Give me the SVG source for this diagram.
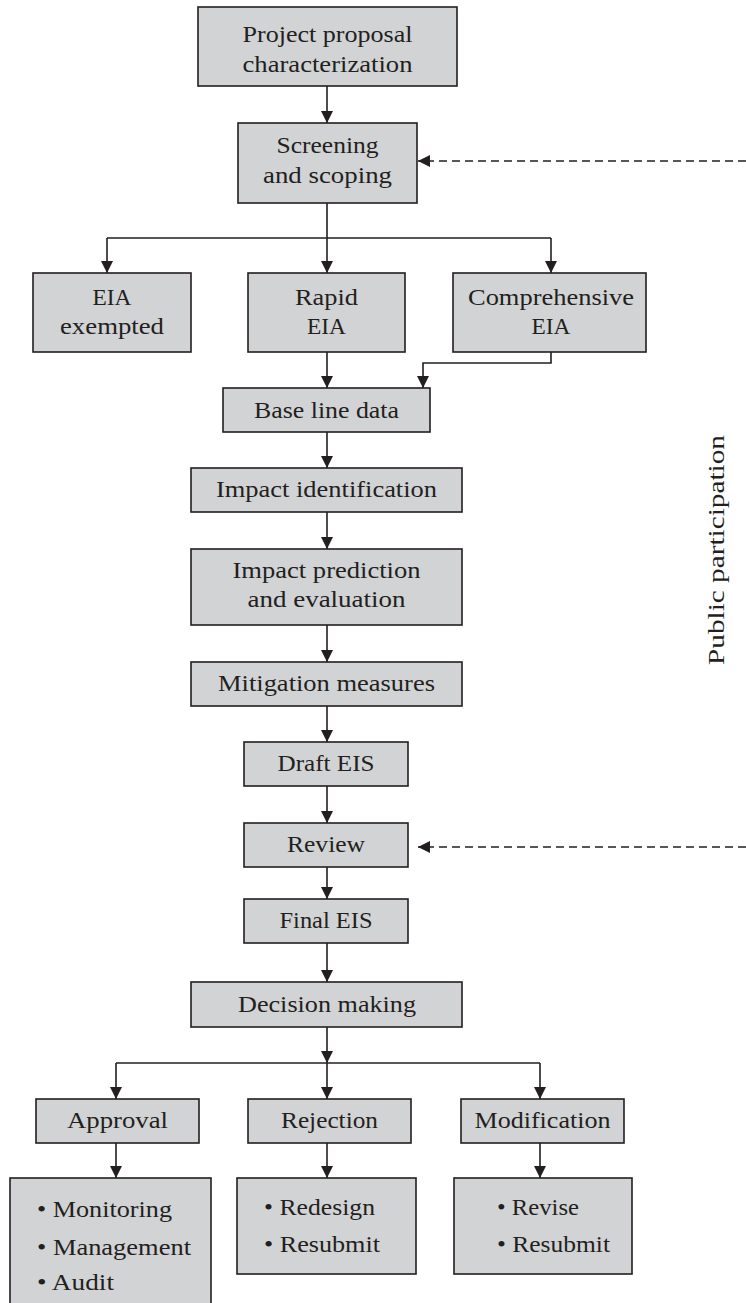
<svg xmlns="http://www.w3.org/2000/svg" width="746" height="1303" viewBox="0 0 746 1303">
  <style>
    .box { fill: #d2d3d5; stroke: #231f20; stroke-width: 1.6; }
    .lbl { font-family: "Liberation Serif", "Times New Roman", serif; font-size: 23px; fill: #231f20; text-anchor: middle; }
    .lft { text-anchor: start; }
    .wire { fill: none; stroke: #231f20; stroke-width: 1.6; }
    .arr { marker-end: url(#head); }
    .dash { stroke-dasharray: 8 5; }
  </style>
  <defs>
    <marker id="head" markerUnits="userSpaceOnUse" markerWidth="12" markerHeight="12" refX="12" refY="6" orient="auto">
      <path d="M0,0 L12,6 L0,12 Z" fill="#231f20"/>
    </marker>
  </defs>
  <rect width="746" height="1303" fill="#ffffff"/>

  <!-- connectors -->
  <g id="connectors">
    <path class="wire arr" d="M327,86 V123"/>
    <path class="wire" d="M327,203 V238 M107,238 H551"/>
    <path class="wire arr" d="M107,238 V273"/>
    <path class="wire arr" d="M327,238 V273"/>
    <path class="wire arr" d="M551,238 V273"/>
    <path class="wire arr" d="M327,352 V388"/>
    <path class="wire arr" d="M551,352 V363 H423 V388"/>
    <path class="wire arr" d="M327,432 V468"/>
    <path class="wire arr" d="M327,512 V549"/>
    <path class="wire arr" d="M327,625 V662"/>
    <path class="wire arr" d="M327,706 V742"/>
    <path class="wire arr" d="M327,786 V823"/>
    <path class="wire arr" d="M327,867 V899"/>
    <path class="wire arr" d="M327,943 V982"/>
    <path class="wire arr" d="M327,1027 V1063"/>
    <path class="wire" d="M116,1063 H540"/>
    <path class="wire arr" d="M116,1063 V1099"/>
    <path class="wire arr" d="M327,1063 V1099"/>
    <path class="wire arr" d="M540,1063 V1099"/>
    <path class="wire arr" d="M116,1143 V1178"/>
    <path class="wire arr" d="M327,1143 V1178"/>
    <path class="wire arr" d="M540,1143 V1178"/>
    <path class="wire arr dash" d="M746,161 H418"/>
    <path class="wire arr dash" d="M746,847 H418"/>
  </g>

  <g id="proposal">
    <rect class="box" x="198" y="7" width="259" height="79"/>
    <text class="lbl" x="327.5" y="42" textLength="170" lengthAdjust="spacingAndGlyphs">Project proposal</text>
    <text class="lbl" x="327.5" y="72" textLength="170" lengthAdjust="spacingAndGlyphs">characterization</text>
  </g>
  <g id="screening">
    <rect class="box" x="238" y="123" width="179" height="80"/>
    <text class="lbl" x="327.5" y="153" textLength="102" lengthAdjust="spacingAndGlyphs">Screening</text>
    <text class="lbl" x="327.5" y="183" textLength="129" lengthAdjust="spacingAndGlyphs">and scoping</text>
  </g>
  <g id="exempted">
    <rect class="box" x="33" y="273" width="158" height="79"/>
    <text class="lbl" x="112" y="305" textLength="39" lengthAdjust="spacingAndGlyphs">EIA</text>
    <text class="lbl" x="112" y="334" textLength="104" lengthAdjust="spacingAndGlyphs">exempted</text>
  </g>
  <g id="rapid">
    <rect class="box" x="248" y="273" width="157" height="79"/>
    <text class="lbl" x="326.5" y="305" textLength="63" lengthAdjust="spacingAndGlyphs">Rapid</text>
    <text class="lbl" x="326.5" y="334" textLength="39" lengthAdjust="spacingAndGlyphs">EIA</text>
  </g>
  <g id="comprehensive">
    <rect class="box" x="453" y="273" width="193" height="79"/>
    <text class="lbl" x="551" y="305" textLength="166" lengthAdjust="spacingAndGlyphs">Comprehensive</text>
    <text class="lbl" x="551" y="334" textLength="39" lengthAdjust="spacingAndGlyphs">EIA</text>
  </g>
  <g id="baseline">
    <rect class="box" x="223" y="388" width="207" height="44"/>
    <text class="lbl" x="326.5" y="418" textLength="145" lengthAdjust="spacingAndGlyphs">Base line data</text>
  </g>
  <g id="identification">
    <rect class="box" x="191" y="468" width="271" height="44"/>
    <text class="lbl" x="326.5" y="497" textLength="221" lengthAdjust="spacingAndGlyphs">Impact identification</text>
  </g>
  <g id="prediction">
    <rect class="box" x="191" y="549" width="271" height="76"/>
    <text class="lbl" x="326.5" y="578" textLength="188" lengthAdjust="spacingAndGlyphs">Impact prediction</text>
    <text class="lbl" x="326.5" y="607" textLength="158" lengthAdjust="spacingAndGlyphs">and evaluation</text>
  </g>
  <g id="mitigation">
    <rect class="box" x="191" y="662" width="271" height="44"/>
    <text class="lbl" x="326.5" y="691" textLength="217" lengthAdjust="spacingAndGlyphs">Mitigation measures</text>
  </g>
  <g id="draft">
    <rect class="box" x="244" y="742" width="164" height="44"/>
    <text class="lbl" x="326" y="771" textLength="97" lengthAdjust="spacingAndGlyphs">Draft EIS</text>
  </g>
  <g id="review">
    <rect class="box" x="244" y="823" width="164" height="44"/>
    <text class="lbl" x="326" y="852" textLength="78" lengthAdjust="spacingAndGlyphs">Review</text>
  </g>
  <g id="final">
    <rect class="box" x="244" y="899" width="164" height="44"/>
    <text class="lbl" x="326" y="928" textLength="93" lengthAdjust="spacingAndGlyphs">Final EIS</text>
  </g>
  <g id="decision">
    <rect class="box" x="191" y="982" width="271" height="45"/>
    <text class="lbl" x="327" y="1012" textLength="178" lengthAdjust="spacingAndGlyphs">Decision making</text>
  </g>
  <g id="approval">
    <rect class="box" x="36" y="1099" width="163" height="44"/>
    <text class="lbl" x="117.5" y="1128" textLength="101" lengthAdjust="spacingAndGlyphs">Approval</text>
  </g>
  <g id="rejection">
    <rect class="box" x="248" y="1099" width="163" height="44"/>
    <text class="lbl" x="329.5" y="1128" textLength="97" lengthAdjust="spacingAndGlyphs">Rejection</text>
  </g>
  <g id="modification">
    <rect class="box" x="461" y="1099" width="163" height="44"/>
    <text class="lbl" x="542.5" y="1128" textLength="136" lengthAdjust="spacingAndGlyphs">Modification</text>
  </g>
  <g id="approval-actions">
    <rect class="box" x="10" y="1178" width="201" height="135"/>
    <text class="lbl lft" x="37" y="1217" textLength="135" lengthAdjust="spacingAndGlyphs">• Monitoring</text>
    <text class="lbl lft" x="37" y="1255" textLength="154" lengthAdjust="spacingAndGlyphs">• Management</text>
    <text class="lbl lft" x="37" y="1290" textLength="77" lengthAdjust="spacingAndGlyphs">• Audit</text>
  </g>
  <g id="rejection-actions">
    <rect class="box" x="237" y="1178" width="179" height="96"/>
    <text class="lbl lft" x="264" y="1215" textLength="111" lengthAdjust="spacingAndGlyphs">• Redesign</text>
    <text class="lbl lft" x="264" y="1252" textLength="116" lengthAdjust="spacingAndGlyphs">• Resubmit</text>
  </g>
  <g id="modification-actions">
    <rect class="box" x="454" y="1178" width="178" height="96"/>
    <text class="lbl lft" x="497" y="1215" textLength="82" lengthAdjust="spacingAndGlyphs">• Revise</text>
    <text class="lbl lft" x="497" y="1252" textLength="113" lengthAdjust="spacingAndGlyphs">• Resubmit</text>
  </g>

  <g id="public-participation">
    <text class="lbl" transform="translate(724,550) rotate(-90)" x="0" y="0" textLength="230" lengthAdjust="spacingAndGlyphs">Public participation</text>
  </g>
</svg>
